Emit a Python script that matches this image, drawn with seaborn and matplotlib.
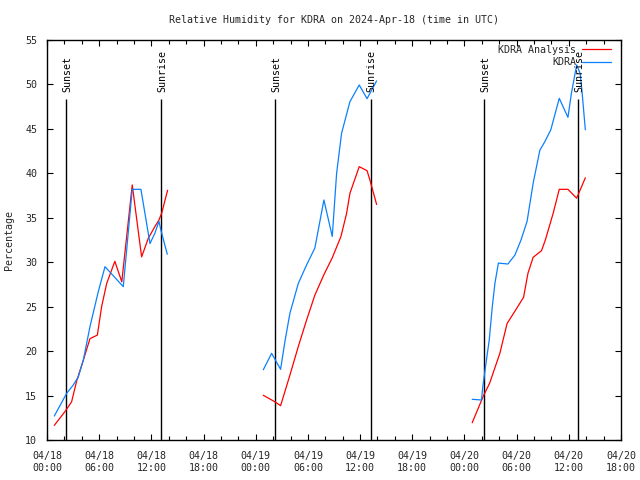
import matplotlib
matplotlib.use("Agg")
import matplotlib.pyplot as plt
import seaborn as sns
import pandas as pd
from matplotlib.ticker import FixedLocator, MultipleLocator

# ---------------- data (hours since 2024-04-18 00:00 UTC) ----------------
title = "Relative Humidity for KDRA on 2024-Apr-18 (time in UTC)"
ylabel = "Percentage"
series_names = ["KDRA Analysis", "KDRA"]

# KDRA Analysis (red)
ana_hours_1 = [0.84, 2.07, 2.83, 3.4, 4.18, 4.94, 5.79, 6.28, 6.86, 7.8, 8.6, 9.8, 10.88, 11.65, 12.4, 12.87, 13.18, 13.87]
ana_rh_1 = [11.65, 13.2, 14.3, 16.6, 19.0, 21.4, 21.8, 25.0, 27.6, 30.1, 27.8, 38.7, 30.6, 32.7, 34.0, 34.75, 35.5, 38.1]
ana_hours_2 = [24.87, 26.2, 26.86, 27.93, 28.89, 29.85, 30.8, 31.84, 32.8, 33.8, 34.45, 34.83, 35.9, 36.8, 37.13, 37.9]
ana_rh_2 = [15.03, 14.3, 13.86, 17.3, 20.5, 23.5, 26.3, 28.6, 30.5, 32.9, 35.5, 37.75, 40.75, 40.3, 39.25, 36.5]
ana_hours_3 = [48.89, 50.15, 50.9, 52.07, 52.9, 54.0, 54.8, 55.3, 55.9, 56.86, 57.3, 58.2, 58.9, 59.9, 60.9, 61.9]
ana_rh_3 = [11.94, 14.9, 16.4, 19.75, 23.1, 24.8, 26.06, 28.75, 30.55, 31.3, 32.5, 35.5, 38.2, 38.2, 37.2, 39.5]

# KDRA observations (blue)
obs_hours_1 = [0.84, 2.26, 3.03, 3.6, 4.18, 4.94, 5.9, 6.67, 8.77, 9.8, 10.8, 11.84, 12.4, 12.87, 13.1, 13.83]
obs_rh_1 = [12.7, 15.25, 16.2, 17.1, 19.0, 22.75, 26.7, 29.5, 27.25, 38.2, 38.2, 32.1, 33.25, 34.6, 33.6, 30.9]
obs_hours_2 = [24.87, 25.83, 26.86, 27.36, 27.93, 28.89, 29.85, 30.8, 31.84, 32.8, 33.3, 33.87, 34.83, 35.9, 36.8, 37.9]
obs_rh_2 = [17.9, 19.75, 17.95, 21.1, 24.25, 27.6, 29.7, 31.6, 37.0, 32.9, 40.0, 44.5, 48.06, 49.94, 48.4, 50.4]
obs_hours_3 = [48.89, 49.96, 50.1, 50.4, 50.85, 51.2, 51.5, 51.9, 53.0, 53.8, 54.5, 55.2, 55.9, 56.67, 57.24, 57.93, 58.9, 59.9, 60.3, 60.9, 61.3, 61.5, 61.9]
obs_rh_3 = [14.58, 14.5, 15.9, 18.1, 21.25, 25.0, 27.6, 29.9, 29.8, 30.8, 32.5, 34.6, 38.9, 42.6, 43.56, 44.9, 48.44, 46.3, 49.0, 52.2, 51.25, 49.4, 44.9]

sunset_hours = [2.2, 26.24, 50.26]
sunrise_hours = [13.14, 37.2, 61.05]

xtick_hours = [0, 6, 12, 18, 24, 30, 36, 42, 48, 54, 60, 66]
xtick_labels = ["04/18\n00:00", "04/18\n06:00", "04/18\n12:00", "04/18\n18:00",
                "04/19\n00:00", "04/19\n06:00", "04/19\n12:00", "04/19\n18:00",
                "04/20\n00:00", "04/20\n06:00", "04/20\n12:00", "04/20\n18:00"]
yticks = [10, 15, 20, 25, 30, 35, 40, 45, 50, 55]

# ---------------- build table ----------------
rows = []
for seg, (h, v) in enumerate([(ana_hours_1, ana_rh_1), (ana_hours_2, ana_rh_2), (ana_hours_3, ana_rh_3)]):
    rows += [dict(hour=a, rh=b, series=series_names[0], seg=seg) for a, b in zip(h, v)]
for seg, (h, v) in enumerate([(obs_hours_1, obs_rh_1), (obs_hours_2, obs_rh_2), (obs_hours_3, obs_rh_3)]):
    rows += [dict(hour=a, rh=b, series=series_names[1], seg=seg) for a, b in zip(h, v)]
df = pd.DataFrame(rows)

# ---------------- style ----------------
sns.set_style("ticks")
plt.rcParams["font.family"] = ["DejaVu Sans Mono"]
plt.rcParams["font.size"] = 7.2

colors = {"KDRA Analysis": "#ff0000", "KDRA": "#0a80ff"}

fig = plt.figure(figsize=(6.4, 4.8), dpi=100)
ax = fig.add_axes([47 / 640, 1 - 440 / 480, (621 - 47) / 640, 400 / 480])

sns.lineplot(data=df, x="hour", y="rh", hue="series", units="seg", estimator=None,
             sort=False, palette=colors, hue_order=series_names, lw=0.9, ax=ax, legend=True)

ymin, ymax = 10, 55
line_top = 48.4
ax.vlines(sunset_hours + sunrise_hours, ymin, line_top, colors="black", lw=1.0, zorder=1)
for h in sunset_hours:
    ax.text(h + 0.15, 49.2, "Sunset", rotation=90, ha="center", va="bottom", fontsize=7.2, color="black")
for h in sunrise_hours:
    ax.text(h + 0.15, 49.2, "Sunrise", rotation=90, ha="center", va="bottom", fontsize=7.2, color="black")

ax.set_xlim(0, 66)
ax.set_ylim(ymin, ymax)
ax.xaxis.set_major_locator(FixedLocator(xtick_hours))
ax.set_xticklabels(xtick_labels)
ax.xaxis.set_minor_locator(MultipleLocator(2))
ax.set_yticks(yticks)
ax.tick_params(which="both", direction="in", top=True, right=True, color="black", width=0.8)
ax.tick_params(which="major", length=4.5)
ax.tick_params(which="minor", length=3)
ax.tick_params(axis="x", which="major", pad=8)
ax.tick_params(axis="y", which="major", pad=7)
for s in ax.spines.values():
    s.set_color("black")
    s.set_linewidth(1.0)

ax.set_xlabel("")
ax.set_ylabel(ylabel, fontsize=7.2, labelpad=8)
fig.text(334 / 640, 1 - 20 / 480, title, ha="center", va="center", fontsize=7.2)

leg = ax.legend(loc="upper right", bbox_to_anchor=(1 - 5 / 574, 1), frameon=False, markerfirst=False,
                handlelength=2.9, handletextpad=0.6, labelspacing=0.25,
                borderaxespad=0.0, borderpad=0.5, fontsize=7.2)

fig.savefig("out.png", dpi=100)
